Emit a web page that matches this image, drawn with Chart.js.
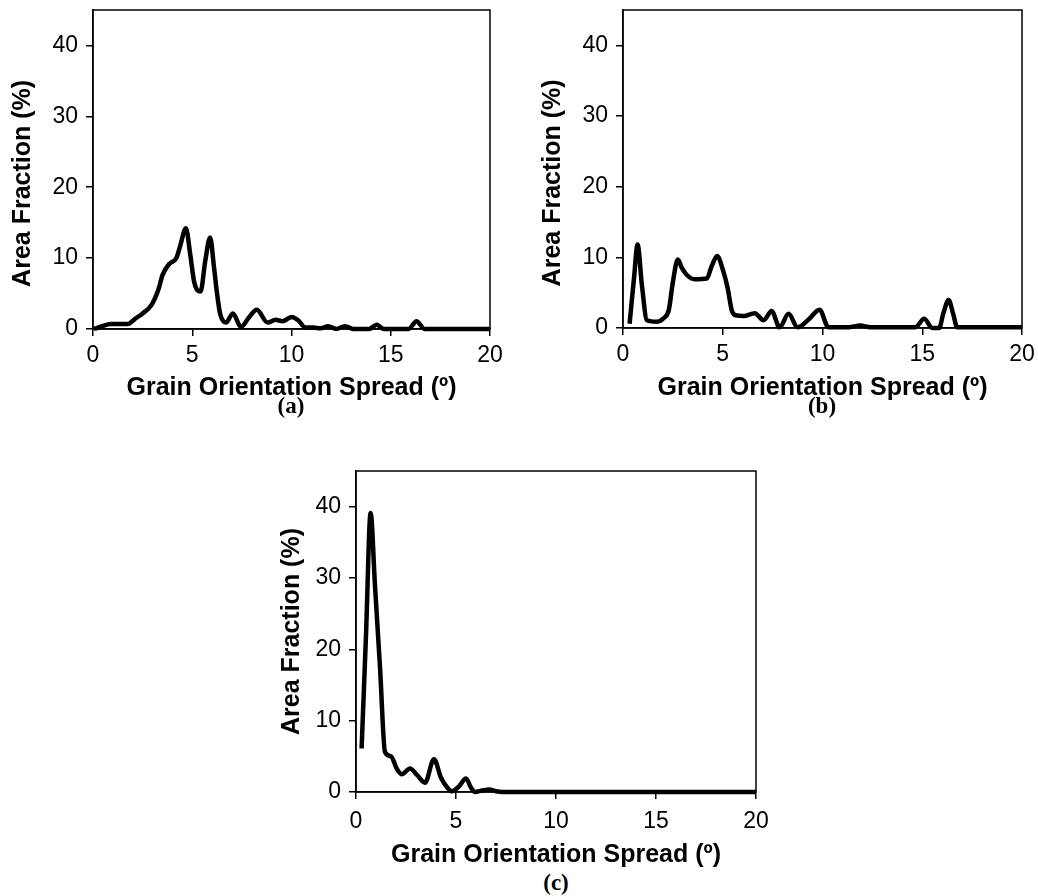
<!DOCTYPE html>
<html>
<head>
<meta charset="utf-8">
<script src="https://cdn.jsdelivr.net/npm/chart.js@4.4.0/dist/chart.umd.min.js"></script>
<style>
body { margin: 0; background: #fff; width: 1038px; height: 896px; position: relative; overflow: hidden; }
.panel { position: absolute; }
.panel canvas { display: block; }
.tag { position: absolute; width: 80px; margin-left: -40px; text-align: center; font: bold 23px "Liberation Serif", "Times New Roman", serif; line-height: 24px; color: #000; }
</style>
</head>
<body>

<div class="panel" style="left:0px;top:0px"><canvas id="chartA" width="520" height="403"></canvas></div>
<div class="panel" style="left:530px;top:0px"><canvas id="chartB" width="508" height="403"></canvas></div>
<div class="panel" style="left:263px;top:461px"><canvas id="chartC" width="520" height="409"></canvas></div>

<div class="tag" style="left:291px;top:394px">(a)</div>
<div class="tag" style="left:822px;top:394px">(b)</div>
<div class="tag" style="left:556px;top:871px">(c)</div>

<script>
// tick values
var spreadTicks = [0, 5, 10, 15, 20];
var fracTicks = [0, 10, 20, 30, 40];

// (a)
var spreadA = [0.05, 0.45, 0.9, 1.4, 1.75, 2.1, 2.5, 2.95, 3.3, 3.5, 3.85, 4.2, 4.4, 4.68, 4.9, 5.1, 5.42, 5.65, 5.9, 6.1, 6.25, 6.4, 6.7, 7.05, 7.45, 7.85, 8.25, 8.8, 9.2, 9.55, 10.0, 10.35, 10.7, 11.1, 11.45, 11.85, 12.25, 12.7, 13.1, 13.9, 14.3, 14.65, 15.9, 16.3, 16.7, 20];
var fracA = [0, 0.4, 0.7, 0.7, 0.7, 1.4, 2.2, 3.4, 5.6, 7.6, 9.2, 10.0, 11.8, 14.2, 10.5, 6.6, 5.3, 9.5, 12.9, 8.6, 5.0, 2.2, 0.9, 2.2, 0.3, 1.6, 2.7, 0.9, 1.3, 1.1, 1.7, 1.2, 0.2, 0.2, 0.1, 0.4, 0, 0.4, 0, 0, 0.6, 0, 0, 1.1, 0, 0];

// (b)
var spreadB = [0.33, 0.55, 0.73, 0.95, 1.2, 1.7, 2.05, 2.3, 2.5, 2.75, 2.95, 3.2, 3.6, 4.2, 4.45, 4.72, 5.0, 5.25, 5.45, 5.65, 6.05, 6.6, 7.05, 7.45, 7.85, 8.3, 8.75, 9.3, 9.85, 10.3, 11.3, 11.9, 12.4, 14.65, 15.1, 15.5, 15.85, 16.05, 16.32, 16.55, 16.75, 20];
var fracB = [0.6, 7, 11.8, 6, 1.1, 0.9, 1.4, 2.6, 6.5, 9.7, 8.5, 7.5, 6.9, 7.0, 8.8, 10.2, 8.3, 5.6, 2.5, 1.8, 1.7, 2.1, 1.1, 2.4, 0.1, 2.0, 0.1, 1.2, 2.6, 0.1, 0.1, 0.35, 0.1, 0.1, 1.3, 0, 0, 2, 3.95, 2, 0.1, 0.1];

// (c)
var spreadC = [0.28, 0.5, 0.73, 0.95, 1.2, 1.45, 1.75, 2.05, 2.3, 2.7, 3.05, 3.45, 3.9, 4.25, 4.6, 4.8, 5.15, 5.5, 5.75, 5.95, 6.3, 6.65, 7.0, 7.3, 20];
var fracC = [6.1, 22, 39.1, 28.9, 17.5, 5.6, 5.0, 3.2, 2.5, 3.3, 2.4, 1.3, 4.6, 2.0, 0.5, 0.1, 0.8, 1.9, 0.6, 0, 0.2, 0.35, 0.1, 0, 0];

var sans = "'Liberation Sans', Arial, sans-serif";

// box round the plot area, like the excel frame
var framePlugin = {
    id: 'frame',
    beforeDatasetsDraw: function(chart) {
        var a = chart.chartArea, ctx = chart.ctx;
        ctx.save();
        ctx.strokeStyle = '#000';
        ctx.lineWidth = 1.5;
        ctx.strokeRect(a.left, a.top, a.right - a.left, a.bottom - a.top);
        ctx.restore();
    }
};

function noEdgePad(scale) {
    scale.paddingTop = 0;
    scale.paddingBottom = 0;
    scale.paddingLeft = 0;
    scale.paddingRight = 0;
}

function makeChart(id, xs, ys, cfg) {
    var pts = [];
    for (var i = 0; i < xs.length; i++) {
        pts.push({x: xs[i], y: ys[i]});
    }
    var ctx = document.getElementById(id).getContext("2d");
    return new Chart(ctx, {
        type: 'line',
        data: {
            datasets: [{
                data: pts,
                borderColor: '#000',
                borderWidth: 4.5,
                pointRadius: 0,
                cubicInterpolationMode: 'monotone',
                fill: false,
                clip: false
            }]
        },
        options: {
            responsive: false,
            animation: false,
            layout: { padding: { top: 10, right: cfg.padRight, left: 0, bottom: 0 } },
            plugins: { legend: { display: false }, tooltip: { enabled: false } },
            scales: {
                x: {
                    type: 'linear',
                    min: 0,
                    max: 20,
                    afterBuildTicks: function(scale) {
                        scale.ticks = spreadTicks.map(function(v) { return {value: v}; });
                    },
                    afterFit: function(scale) { scale.height = cfg.xHeight; noEdgePad(scale); },
                    grid: { drawOnChartArea: false, tickLength: 7, color: '#000', lineWidth: 1.5 },
                    border: { color: '#000', width: 1.5 },
                    ticks: { color: '#000', padding: cfg.xTickPad, maxRotation: 0, font: { family: sans, size: 23 } },
                    title: {
                        display: true,
                        text: 'Grain Orientation Spread (º)',
                        color: '#000',
                        padding: 0,
                        font: { family: sans, size: 25, weight: 'bold', lineHeight: 1.2 }
                    }
                },
                y: {
                    min: 0,
                    max: 45,
                    afterBuildTicks: function(scale) {
                        scale.ticks = fracTicks.map(function(v) { return {value: v}; });
                    },
                    afterFit: function(scale) { scale.width = 93; noEdgePad(scale); },
                    grid: { drawOnChartArea: false, tickLength: 7, color: '#000', lineWidth: 1.5 },
                    border: { color: '#000', width: 1.5 },
                    ticks: { color: '#000', padding: 8, font: { family: sans, size: 23 } },
                    title: {
                        display: true,
                        text: cfg.yTitle,
                        color: '#000',
                        padding: { top: cfg.yPad, bottom: 0 },
                        font: { family: sans, size: 25, weight: 'bold', lineHeight: 1.2 }
                    }
                }
            }
        },
        plugins: [framePlugin]
    });
}

makeChart("chartA", spreadA, fracA, { padRight: 30, xHeight: 74, xTickPad: 6, yPad: 8, yTitle: 'Area Fraction (%)    ' });
makeChart("chartB", spreadB, fracB, { padRight: 16, xHeight: 75, xTickPad: 6, yPad: 8, yTitle: 'Area Fraction (%)    ' });
makeChart("chartC", spreadC, fracC, { padRight: 27, xHeight: 78, xTickPad: 9, yPad: 14, yTitle: 'Area Fraction (%)' });
</script>
</body>
</html>
